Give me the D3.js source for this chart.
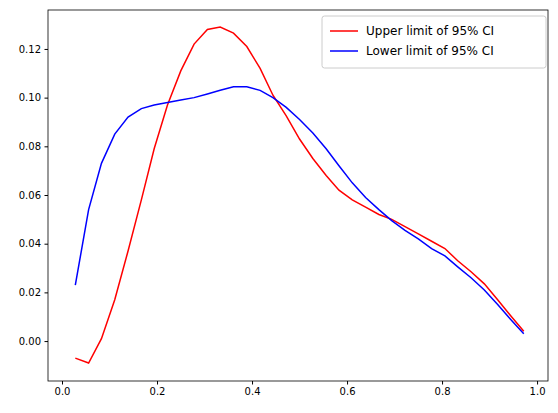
<!DOCTYPE html>
<html><head><meta charset="utf-8">
<script src="https://cdn.jsdelivr.net/npm/d3@7"></script>
<style>body{margin:0;background:#fff}text{font-family:"DejaVu Sans",sans-serif}</style>
</head><body>
<script>
// sample positions and the two CI limits
var xs = [0.028,0.056,0.083,0.111,0.139,0.167,0.194,0.222,0.25,0.278,0.306,0.333,0.361,0.389,0.417,0.444,0.472,0.5,
  0.528,0.556,0.583,0.611,0.639,0.667,0.694,0.722,0.75,0.778,0.806,0.833,0.861,0.889,0.917,0.944,0.972];
var upper = [-0.007,-0.009,0.001,0.017,0.037,0.058,0.079,0.097,0.111,0.122,0.128,0.129,0.1265,0.121,0.112,0.101,0.0925,0.083,
  0.075,0.068,0.062,0.058,0.055,0.052,0.050,0.047,0.044,0.041,0.038,0.033,0.0285,0.0235,0.017,0.0105,0.004];
var lower = [0.023,0.054,0.073,0.085,0.092,0.0955,0.097,0.098,0.099,0.100,0.1015,0.103,0.1045,0.1045,0.103,0.100,0.096,0.091,
  0.0855,0.079,0.072,0.065,0.059,0.054,0.0495,0.0455,0.042,0.038,0.035,0.0305,0.026,0.021,0.015,0.009,0.003];
var xTicks = [0,0.2,0.4,0.6,0.8,1.0];
var yTicks = [0,0.02,0.04,0.06,0.08,0.10,0.12];
var names = ["Upper limit of 95% CI","Lower limit of 95% CI"];

var W = 558, H = 413, L = 48, R = 548, T = 10, B = 381;
var svg = d3.select("body").append("svg").attr("width", W).attr("height", H);
var x = d3.scaleLinear().domain([-0.0295, 1.023]).range([L, R]);
var y = d3.scaleLinear().domain([-0.0164, 0.136]).range([B, T]);

svg.append("g").attr("transform", "translate(0," + B + ")")
  .call(d3.axisBottom(x).tickValues(xTicks).tickFormat(d3.format(".1f")).tickSizeOuter(0).tickSize(3.5).tickPadding(3.5));
svg.append("g").attr("transform", "translate(" + L + ",0)")
  .call(d3.axisLeft(y).tickValues(yTicks).tickFormat(d3.format(".2f")).tickSizeOuter(0).tickSize(3.5).tickPadding(3.5));
svg.selectAll(".tick text").attr("font-size", 10).attr("fill", "#000");
svg.selectAll(".domain").remove();
svg.append("rect").attr("x", L).attr("y", T).attr("width", R - L).attr("height", B - T)
  .attr("fill", "none").attr("stroke", "#000").attr("stroke-width", 0.8);

var line = d3.line().x(function(d, i){ return x(xs[i]); }).y(function(d){ return y(d); });
[[upper, "red"], [lower, "blue"]].forEach(function(s){
  svg.append("path").datum(s[0]).attr("d", line).attr("fill", "none")
    .attr("stroke", s[1]).attr("stroke-width", 1.5);
});

// legend
var lg = svg.append("g").attr("transform", "translate(322,16)");
lg.append("rect").attr("width", 224).attr("height", 52).attr("rx", 2.5)
  .attr("fill", "#fff").attr("fill-opacity", 0.8).attr("stroke", "#ccc");
names.forEach(function(n, i){
  var yy = 15 + i * 20;
  lg.append("line").attr("x1", 8).attr("x2", 36).attr("y1", yy).attr("y2", yy)
    .attr("stroke", i ? "blue" : "red").attr("stroke-width", 1.5);
  lg.append("text").attr("x", 44).attr("y", yy + 4).attr("font-size", 12).text(n);
});
</script>
</body></html>
